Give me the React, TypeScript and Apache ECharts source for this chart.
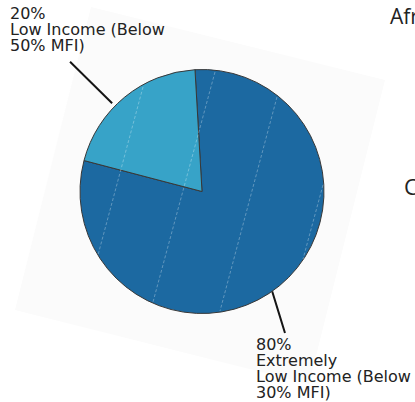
import React, { useEffect, useRef } from "react";
import * as echarts from "echarts";

// ---- data ----
const categories = [
  "Extremely Low Income (Below 30% MFI)",
  "Low Income (Below 50% MFI)",
];
const values = [80, 20];
const labelNameLines = [
  ["Extremely", "Low Income (Below", "30% MFI)"],
  ["Low Income (Below", "50% MFI)"],
];
const sliceColors = ["#1c69a1", "#37a3c8"];

// ---- layout ----
const W = 415;
const H = 402;
const CX = 202;
const CY = 191.5;
const R = 122;
const START_ANGLE = 93.3;
// leader line: [angle from 12 o'clock clockwise, radius] for start / end
const leaders = [
  { start: [144.9, 122], end: [149.6, 164] },
  { start: [314.5, 126], end: [314.5, 185] },
];
const labelAnchors = [
  { x: 256, y: 336.5 },
  { x: 10, y: 5 },
];

function polar(angleDeg: number, r: number): number[] {
  const a = (angleDeg * Math.PI) / 180;
  return [CX + r * Math.sin(a), CY - r * Math.cos(a)];
}

export default function App() {
  const ref = useRef<HTMLDivElement>(null);
  useEffect(() => {
    if (!ref.current) return;
    const chart = echarts.init(ref.current, null, { renderer: "svg" });
    const scanLines = [
      [143, 87, 98, 255],
      [215, 72, 153, 302],
      [277, 97, 220, 311],
      [323, 185, 303, 259],
    ];
    chart.setOption({
      animation: false,
      backgroundColor: "#ffffff",
      graphic: [
        {
          type: "polygon",
          z: 0,
          silent: true,
          shape: {
            points: [
              [91, 7],
              [385, 80],
              [309, 384],
              [15, 310],
            ],
          },
          style: { fill: "#fbfbfb" },
        },
        ...scanLines.map((l) => ({
          type: "line",
          z: 20,
          silent: true,
          shape: { x1: l[0], y1: l[1], x2: l[2], y2: l[3] },
          style: {
            stroke: "#ffffff",
            lineWidth: 1,
            opacity: 0.3,
            lineDash: [3, 2],
          },
        })),
        {
          type: "text",
          x: 390,
          y: 5,
          style: {
            text: "Afr",
            fontFamily: "Open Sans",
            fontSize: 21,
            fill: "#222",
          },
        },
        {
          type: "text",
          x: 404,
          y: 175,
          style: {
            text: "C",
            fontFamily: "Open Sans",
            fontSize: 22,
            fill: "#222",
          },
        },
      ],
      series: [
        {
          type: "pie",
          center: [CX, CY],
          radius: R,
          startAngle: START_ANGLE,
          clockwise: true,
          avoidLabelOverlap: false,
          data: categories.map((name, i) => ({
            name,
            value: values[i],
            itemStyle: { color: sliceColors[i] },
          })),
          itemStyle: { borderColor: "#383838", borderWidth: 1 },
          emphasis: { disabled: true },
          label: {
            show: true,
            position: "outside",
            fontFamily: "DejaVu Sans",
            fontSize: 16,
            lineHeight: 16,
            color: "#222",
            formatter: (p: any) =>
              Math.round(p.percent) + "%\n" + labelNameLines[p.dataIndex].join("\n"),
          },
          labelLine: {
            show: true,
            length: 20,
            length2: 0,
            lineStyle: { color: "#151515", width: 2 },
          },
          labelLayout: (p: any) => {
            const i = p.dataIndex;
            const ld = leaders[i];
            const s = polar(ld.start[0], ld.start[1]);
            const e = polar(ld.end[0], ld.end[1]);
            return {
              x: labelAnchors[i].x,
              y: labelAnchors[i].y,
              align: "left",
              verticalAlign: "top",
              labelLinePoints: [s, [(s[0] + e[0]) / 2, (s[1] + e[1]) / 2], e],
            };
          },
        },
      ],
    });
    return () => chart.dispose();
  }, []);
  return (
    <div
      ref={ref}
      style={{ position: "fixed", left: 0, top: 0, width: W, height: H }}
    />
  );
}
